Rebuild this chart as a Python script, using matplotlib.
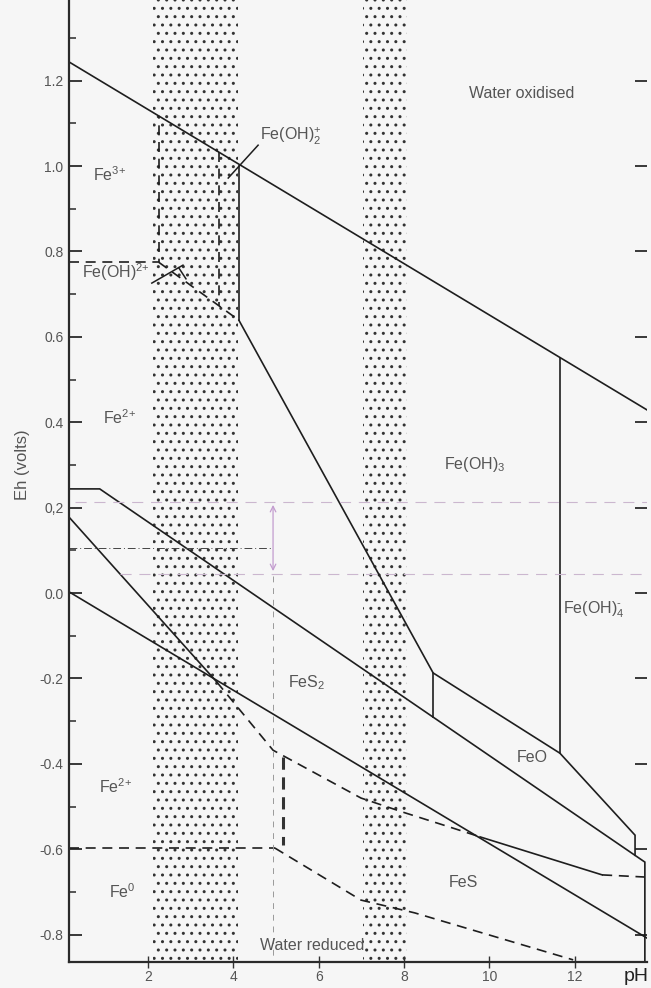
import matplotlib
matplotlib.use('Agg')
import matplotlib.pyplot as plt
from matplotlib.ticker import MultipleLocator

plt.rcParams['font.family'] = ['Liberation Sans', 'DejaVu Sans']
plt.rcParams['mathtext.fontset'] = 'custom'
plt.rcParams['mathtext.rm'] = 'Liberation Sans'
plt.rcParams['mathtext.default'] = 'regular'
plt.rcParams['axes.unicode_minus'] = False
plt.rcParams['hatch.linewidth'] = 1.0

## data (pH, Eh in volts)
ph_ticks = [2, 4, 6, 8, 10, 12]
eh_ticks = [-0.8, -0.6, -0.4, -0.2, 0.0, 0.2, 0.4, 0.6, 0.8, 1.0, 1.2]
eh_tick_labels = ['-0.8', '-0.6', '-0.4', '-0.2', '0.0', '0,2', '0.4', '0.6', '0.8', '1.0', '1.2']

# stippled pH bands
band_left = [2.11, 7.04]
band_right = [4.11, 8.07]

# solid boundaries
water_ox_ph = [0.15, 13.69]
water_ox_eh = [1.244, 0.429]
water_red_ph = [0.15, 13.69]
water_red_eh = [0.003, -0.808]
fe3_feoh3_ph = [4.13, 4.13]
fe3_feoh3_eh = [1.000, 0.639]
fe2_feoh3_ph = [4.13, 8.68, 11.65, 13.41, 13.41]
fe2_feoh3_eh = [0.639, -0.187, -0.375, -0.567, -0.614]
feoh3_feo_ph = [8.68, 8.68]
feoh3_feo_eh = [-0.187, -0.290]
feoh3_feoh4_ph = [11.65, 11.65]
feoh3_feoh4_eh = [0.550, -0.375]
fes2_top_ph = [0.15, 0.87, 13.64, 13.64]
fes2_top_eh = [0.244, 0.244, -0.630, -0.864]
fes2_steep_ph = [0.15, 3.61]
fes2_steep_eh = [0.178, -0.208]
fes2_fes_ph = [9.78, 12.64]
fes2_fes_eh = [-0.571, -0.660]

# dashed boundaries
fes2_fes_dash_ph = [3.61, 4.93, 6.99, 7.97, 9.07, 9.78]
fes2_fes_dash_eh = [-0.208, -0.368, -0.480, -0.513, -0.548, -0.571]
fes_right_ph = [12.64, 13.64]
fes_right_eh = [-0.660, -0.665]
fe2_fes_ph = [5.16, 5.16]
fe2_fes_eh = [-0.384, -0.590]
fe2_fe0_ph = [0.15, 4.97]
fe2_fe0_eh = [-0.597, -0.597]
fe0_fes_ph = [4.97, 6.99, 8.25, 11.96]
fe0_fes_eh = [-0.597, -0.719, -0.749, -0.859]
fe3_fe2_ph = [0.15, 2.25, 2.25]
fe3_fe2_eh = [0.775, 0.775, 1.117]
feoh_low_ph = [2.25, 4.13]
feoh_low_eh = [0.775, 0.639]
feoh_split_ph = [3.66, 3.66]
feoh_split_eh = [1.033, 0.673]

# label leaders
leader_a_ph = [3.88, 4.58]
leader_a_eh = [0.972, 1.049]
leader_b_ph = [2.09, 2.82]
leader_b_eh = [0.726, 0.768]
leader_b_hook_ph = [2.72, 2.89]
leader_b_hook_eh = [0.762, 0.736]

# pencil annotations
pink_hi_eh = 0.213
pink_lo_eh = 0.045
pink_lo_start = 1.34
mark_ph = 4.93
mark_eh = 0.105

labels = [
    ('Water oxidised', 10.75, 1.17, 'center'),
    (r'Fe(OH)$_2^{\text{+}}$', 4.62, 1.07, 'left'),
    (r'Fe$^{\text{3+}}$', 1.1, 0.98, 'center'),
    (r'Fe(OH)$^{\text{2+}}$', 2.05, 0.752, 'right'),
    (r'Fe$^{\text{2+}}$', 1.34, 0.41, 'center'),
    ('Fe(OH)$_3$', 9.66, 0.30, 'center'),
    (r'Fe(OH)$_4^{\text{-}}$', 12.45, -0.04, 'center'),
    ('FeS$_2$', 5.72, -0.21, 'center'),
    ('FeO', 11.0, -0.386, 'center'),
    (r'Fe$^{\text{2+}}$', 1.25, -0.454, 'center'),
    ('Fe$^0$', 1.41, -0.70, 'center'),
    ('FeS', 9.38, -0.677, 'center'),
    ('Water reduced', 5.85, -0.826, 'center'),
]

bg = '#f6f6f6'
ink = '#1e1e1e'
txt = '#555555'
dash = (0, (6, 4))

fig = plt.figure(figsize=(6.51, 9.88), dpi=100, facecolor=bg)
ax = fig.add_axes([69 / 651, 26 / 988, 578 / 651, 962 / 988])
ax.set_facecolor(bg)

for l, r in zip(band_left, band_right):
    ax.axvspan(l, r, facecolor='none', edgecolor='#333333', hatch='..', linewidth=0)

solid = [(water_ox_ph, water_ox_eh), (water_red_ph, water_red_eh),
         (fe3_feoh3_ph, fe3_feoh3_eh), (fe2_feoh3_ph, fe2_feoh3_eh),
         (feoh3_feo_ph, feoh3_feo_eh), (feoh3_feoh4_ph, feoh3_feoh4_eh),
         (fes2_top_ph, fes2_top_eh), (fes2_steep_ph, fes2_steep_eh),
         (fes2_fes_ph, fes2_fes_eh)]
for xs, ys in solid:
    ax.plot(xs, ys, color=ink, lw=1.2, solid_joinstyle='miter')

dashed = [(fes2_fes_dash_ph, fes2_fes_dash_eh), (fes_right_ph, fes_right_eh),
          (fe2_fe0_ph, fe2_fe0_eh), (fe0_fes_ph, fe0_fes_eh),
          (fe3_fe2_ph, fe3_fe2_eh), (feoh_low_ph, feoh_low_eh),
          (feoh_split_ph, feoh_split_eh)]
for xs, ys in dashed:
    ax.plot(xs, ys, color=ink, lw=1.2, linestyle=dash)
ax.plot(fe2_fes_ph, fe2_fes_eh, color='#333333', lw=2.2, linestyle=(0, (4, 2.5)))

for xs, ys in [(leader_a_ph, leader_a_eh), (leader_b_ph, leader_b_eh),
               (leader_b_hook_ph, leader_b_hook_eh)]:
    ax.plot(xs, ys, color=ink, lw=1.1)

# faint pencil marks
ax.plot([0.3, 13.69], [pink_hi_eh] * 2, color='#cbb7cf', lw=0.8, linestyle=(0, (10, 7)))
ax.plot([pink_lo_start, 13.69], [pink_lo_eh] * 2, color='#cbb7cf', lw=0.8, linestyle=(0, (10, 7)))
ax.plot([0.15, mark_ph], [mark_eh] * 2, color='#444444', lw=0.7, linestyle=(0, (8, 3, 1, 3)))
ax.plot([mark_ph, mark_ph], [pink_lo_eh - 0.005, -0.864], color='#9a9a9a', lw=0.7,
        linestyle=(0, (6, 6)))
ax.annotate('', xy=(mark_ph, pink_hi_eh), xytext=(mark_ph, pink_lo_eh),
            arrowprops=dict(arrowstyle='<->', color='#c39ccf', lw=0.9))

for s, x, y, ha in labels:
    ax.text(x, y, s, ha=ha, va='center', fontsize=11.5, color=txt)

ax.set_xlim(0.15, 13.69)
ax.set_ylim(-0.864, 1.389)
for side in ['top', 'right']:
    ax.spines[side].set_visible(False)
for side in ['left', 'bottom']:
    ax.spines[side].set_linewidth(1.6)
    ax.spines[side].set_color('#2a2a2a')

ax.set_yticks(eh_ticks, eh_tick_labels)
ax.yaxis.set_minor_locator(MultipleLocator(0.1))
ax.tick_params(axis='y', which='major', direction='in', length=9, width=1.3,
               color='#2a2a2a', labelsize=10, labelcolor=txt, pad=4, right=True)
ax.tick_params(axis='y', which='minor', direction='in', length=5, width=1.1,
               color='#2a2a2a')
ax.set_xticks(ph_ticks)
ax.tick_params(axis='x', direction='inout', length=8, width=1.0, color='#333333',
               labelsize=10, labelcolor=txt, pad=2)

fig.text(23 / 651, 1 - 465 / 988, 'Eh (volts)', rotation=90, ha='center', va='center',
         fontsize=12, color=txt)
fig.text(649 / 651, 1 - 976 / 988, 'pH', ha='right', va='center', fontsize=14,
         color='#222222')

fig.savefig('out.png', dpi=100, facecolor=bg)
